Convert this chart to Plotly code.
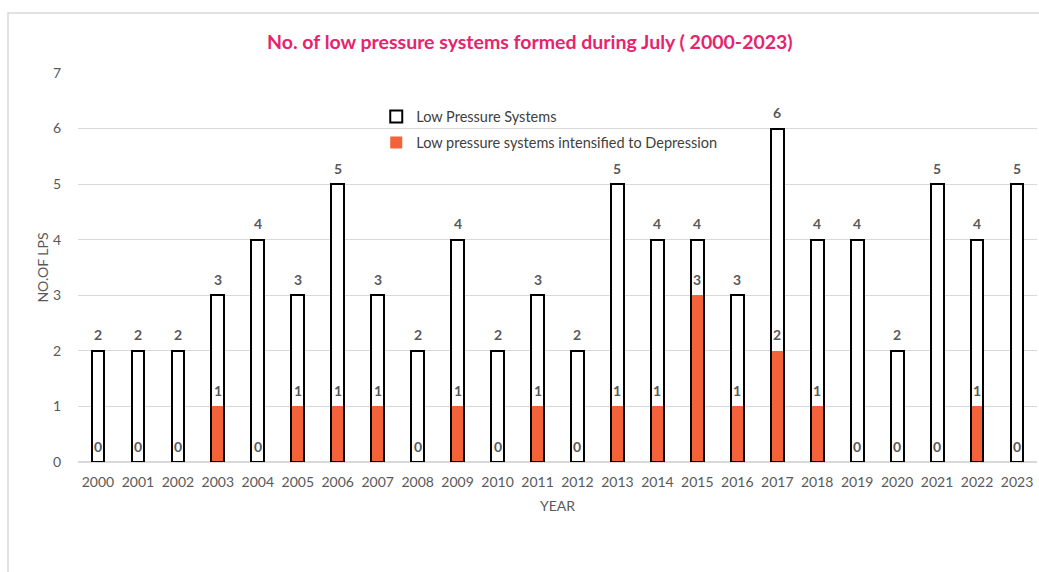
import plotly.graph_objects as go

years = [str(y) for y in range(2000, 2024)]
lps = [2, 2, 2, 3, 4, 3, 5, 3, 2, 4, 2, 3, 2, 5, 4, 4, 3, 6, 4, 4, 2, 5, 4, 5]
dep = [0, 0, 0, 1, 0, 1, 1, 1, 0, 1, 0, 1, 0, 1, 1, 3, 1, 2, 1, 0, 0, 0, 1, 0]

ORANGE = "#F4623A"
TXT = "#595959"
FONT = "Lato"
W = 0.32

fig = go.Figure()
fig.add_trace(go.Bar(x=years, y=lps, name="Low Pressure Systems", width=W, legendgroup="a",
                     marker=dict(color="white", line=dict(color="black", width=2))))
fig.add_trace(go.Bar(x=years, y=dep, name="Low pressure systems intensified to Depression",
                     width=W, legendgroup="b", marker=dict(color=ORANGE, line=dict(width=0))))
fig.add_trace(go.Bar(x=years, y=lps, width=W, showlegend=False, hoverinfo="skip",
                     marker=dict(color="rgba(0,0,0,0)", line=dict(color="black", width=2))))

annotations = []
for i, v in enumerate(lps):
    annotations.append(dict(x=i, y=v, text=f"<b>{v}</b>", showarrow=False, yshift=16,
                            font=dict(family=FONT, size=14, color=TXT)))
for i, v in enumerate(dep):
    annotations.append(dict(x=i, y=v, text=f"<b>{v}</b>", showarrow=False, yshift=16,
                            font=dict(family=FONT, size=14, color=TXT)))

fig.update_layout(
    width=1039, height=572,
    margin=dict(l=78, r=2, t=73, b=110),
    paper_bgcolor="white", plot_bgcolor="white",
    barmode="overlay",
    bargap=0,
    title=dict(text="<b>No. of low pressure systems formed during July ( 2000-2023)</b>",
               x=0.51, xanchor="center", y=0.927, yanchor="middle",
               font=dict(family=FONT, size=19.5, color="#E6246E")),
    font=dict(family=FONT, size=14, color=TXT),
    legend=dict(x=0.311, y=0.929, xanchor="left", yanchor="top",
                bgcolor="rgba(0,0,0,0)", font=dict(size=14.5, color="#404040"),
                traceorder="grouped", itemwidth=30, tracegroupgap=4),
    xaxis=dict(type="category", range=[-0.5, len(years) - 0.5],
               title=dict(text="YEAR", font=dict(size=14, color=TXT), standoff=12),
               showgrid=False, ticks="", tickfont=dict(size=14, color=TXT),
               showline=False, zeroline=False, ticklabelstandoff=10),
    yaxis=dict(title=dict(text="NO.OF LPS", font=dict(size=14, color=TXT), standoff=0),
               range=[0, 7], dtick=1, showgrid=True, gridcolor="#D9D9D9", gridwidth=1,
               zeroline=True, zerolinecolor="#D9D9D9", ticks="",
               tickfont=dict(size=14, color=TXT), ticklabelstandoff=16),
    annotations=annotations,
    shapes=[dict(type="rect", xref="paper", yref="paper",
                 x0=-0.073, x1=1.2, y0=-0.5, y1=1.154,
                 line=dict(color="#D9D9D9", width=1.5), fillcolor="rgba(0,0,0,0)",
                 layer="below")],
)
fig.update_traces(cliponaxis=False)
fig.write_html(
    "out.html",
    config={"displayModeBar": False},
    post_script="document.body.style.margin='0';document.documentElement.style.overflow='hidden';",
)
